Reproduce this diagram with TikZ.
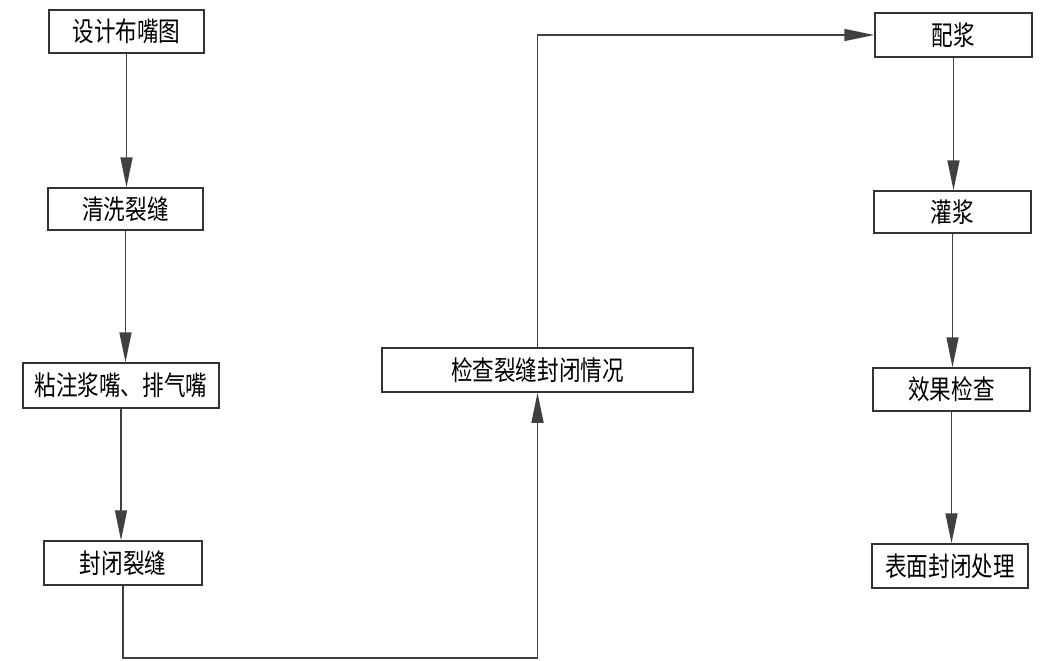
\documentclass[tikz,border=0pt]{standalone}
\usepackage{fontspec}
\newfontfamily\cjk[FakeStretch=0.8]{Noto Sans CJK SC}
\usetikzlibrary{arrows.meta}
\begin{document}
\begin{tikzpicture}[x=1pt,y=-1pt,
  box/.style={draw=black!80, line width=1.5pt, inner sep=0pt, font=\cjk\fontsize{27}{27}\selectfont},
  conn/.style={draw=black!75, line width=1.5pt, -{Triangle[length=30pt,width=12pt]}}]
\useasboundingbox[fill=white] (0,0) rectangle (1045,661);
\node[box, minimum width=155pt, minimum height=43pt] (b1) at (126.5,31.5) {设计布嘴图};
\node[box, minimum width=155pt, minimum height=42pt] (b2) at (125.5,209) {清洗裂缝};
\node[box, minimum width=196pt, minimum height=45pt] (b3) at (121,385.5) {粘注浆嘴、排气嘴};
\node[box, minimum width=158pt, minimum height=44pt] (b4) at (123,563) {封闭裂缝};
\node[box, minimum width=311pt, minimum height=44pt] (b5) at (537.5,370) {检查裂缝封闭情况};
\node[box, minimum width=157pt, minimum height=44pt] (b6) at (953.5,35) {配浆};
\node[box, minimum width=157pt, minimum height=42pt] (b7) at (952.5,212) {灌浆};
\node[box, minimum width=157pt, minimum height=43pt] (b8) at (951.5,389.5) {效果检查};
\node[box, minimum width=156pt, minimum height=44pt] (b9) at (950,566) {表面封闭处理};
\draw[conn] (b1.south) -- (b1.south |- b2.north);
\draw[conn] (b2.south) -- (b2.south |- b3.north);
\draw[conn] (b3.south) -- (b3.south |- b4.north);
\draw[conn] (b4.south) -- (b4.south |- 0,658) -| (b5.south);
\draw[conn] (b5.north) |- (b6.west);
\draw[conn] (b6.south) -- (b6.south |- b7.north);
\draw[conn] (b7.south) -- (b7.south |- b8.north);
\draw[conn] (b8.south) -- (b8.south |- b9.north);
\end{tikzpicture}
\end{document}
